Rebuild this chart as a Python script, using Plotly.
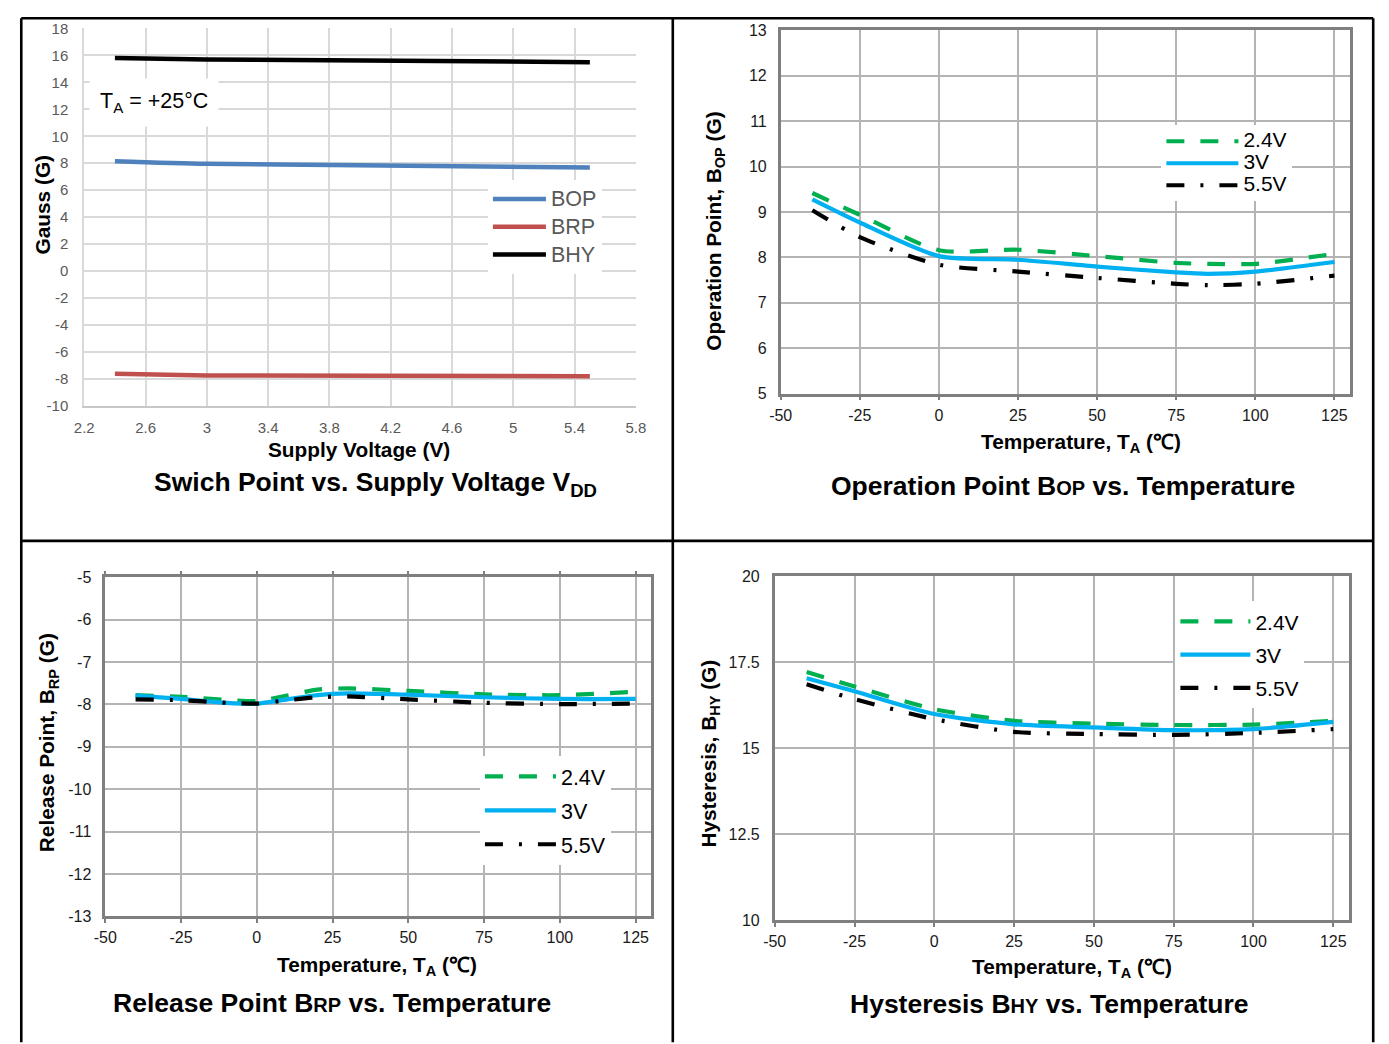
import plotly.graph_objects as go

# Figure size (the page body adds an 8px margin; the photographed page is
# slightly reduced, so layout positions are mapped through that measured scale).
W, H = 1392, 1046
BODY = 8
SC = 0.985
BX, BY = 9.8, 8.6
FONT = "Liberation Sans, Arial, sans-serif"

# ---------------- data ----------------
# Panel 1: switch point vs supply voltage (TA = 25C)
vdd = [2.4, 3.0, 5.5]
bop_vdd = [8.15, 7.95, 7.68]
brp_vdd = [-7.64, -7.76, -7.81]
bhy_vdd = [15.8, 15.7, 15.5]

# Panel 2: operation point vs temperature
temps_op = [-40, -25, 0, 25, 50, 75, 85, 100, 125]
bop_24 = [9.42, 8.94, 8.16, 8.17, 8.03, 7.88, 7.86, 7.86, 8.08]
bop_30 = [9.28, 8.77, 8.03, 7.95, 7.80, 7.67, 7.64, 7.69, 7.90]
bop_55 = [9.04, 8.45, 7.84, 7.69, 7.55, 7.42, 7.39, 7.42, 7.60]

# Panel 3: release point vs temperature
temps_rp = [-40, -25, -10, 0, 10, 20, 30, 50, 75, 100, 125]
brp_24 = [-7.78, -7.82, -7.89, -7.92, -7.79, -7.65, -7.62, -7.68, -7.76, -7.78, -7.70]
brp_30 = [-7.79, -7.87, -7.96, -7.98, -7.88, -7.78, -7.74, -7.77, -7.83, -7.87, -7.87]
brp_55 = [-7.88, -7.90, -7.96, -7.98, -7.90, -7.83, -7.81, -7.88, -7.96, -7.99, -7.98]

# Panel 4: hysteresis vs temperature
temps_hy = [-40, -25, 0, 25, 50, 75, 100, 125]
bhy_24 = [17.22, 16.80, 16.14, 15.80, 15.72, 15.68, 15.69, 15.80]
bhy_30 = [17.04, 16.66, 16.00, 15.70, 15.61, 15.53, 15.56, 15.77]
bhy_55 = [16.86, 16.43, 15.85, 15.48, 15.42, 15.39, 15.45, 15.56]

vdd_names = ["BOP", "BRP", "BHY"]
volt_names = ["2.4V", "3V", "5.5V"]

# tick labels (plain hyphen minus as in the original)
p1_xticks = ["2.2", "2.6", "3", "3.4", "3.8", "4.2", "4.6", "5", "5.4", "5.8"]
p1_yticks = ["-10", "-8", "-6", "-4", "-2", "0", "2", "4", "6", "8", "10", "12", "14", "16", "18"]
temp_ticks = ["-50", "-25", "0", "25", "50", "75", "100", "125"]
p2_yticks = ["5", "6", "7", "8", "9", "10", "11", "12", "13"]
p3_yticks = ["-13", "-12", "-11", "-10", "-9", "-8", "-7", "-6", "-5"]
p4_yticks = ["10", "12.5", "15", "17.5", "20"]

# ---------------- helpers ----------------
def px(x):
    return ((x - BX) / SC - BODY) / W

def py(y):
    return 1 - ((y - BY) / SC - BODY) / H

def vals(labels):
    return [float(s) for s in labels]

C_GREEN = "#00b050"
C_BLUE = "#00b0f0"
C_BLACK = "#000000"
DASH_24 = "18px,16px"
DASH_55 = "18px,16px,3px,16px"

fig = go.Figure()

# Panel 1 traces
for name, ys, col in zip(vdd_names, [bop_vdd, brp_vdd, bhy_vdd], ["#4f81bd", "#c0504d", "#000000"]):
    fig.add_trace(go.Scatter(x=vdd, y=ys, name=f'<span style="font-size:21.5px">{name}</span>',
                             mode="lines",
                             line=dict(color=col, width=4.5, shape="spline", smoothing=0.6),
                             xaxis="x", yaxis="y", legend="legend", legendgroup="p1" + name))

def temp_traces(temps, series, xa, ya, leg, span=None):
    styles = [(C_GREEN, DASH_24), (C_BLUE, "solid"), (C_BLACK, DASH_55)]
    for nm, ys, (col, dash) in zip(volt_names, series, styles):
        label = nm if span is None else f'<span style="font-size:{span}px">{nm}</span>'
        fig.add_trace(go.Scatter(x=temps, y=ys, name=label, mode="lines",
                                 line=dict(color=col, width=4.2, dash=dash, shape="spline", smoothing=0.7),
                                 xaxis=xa, yaxis=ya, legend=leg, legendgroup=leg + nm))

temp_traces(temps_op, [bop_24, bop_30, bop_55], "x2", "y2", "legend2", span=21)
temp_traces(temps_rp, [brp_24, brp_30, brp_55], "x3", "y3", "legend3")
temp_traces(temps_hy, [bhy_24, bhy_30, bhy_55], "x4", "y4", "legend4")

# ---------------- axes ----------------
tickfont1 = dict(family=FONT, size=15, color="#595959")
tickfontT = dict(family=FONT, size=16, color="#1a1a1a")

p1x = dict(domain=[px(82), px(634)], range=[2.2, 5.8],
           tickmode="array", tickvals=vals(p1_xticks), ticktext=p1_xticks,
           showgrid=True, gridcolor="#d9d9d9", gridwidth=2, zeroline=False,
           showline=True, linecolor="#c8c8c8", linewidth=2, mirror=False,
           tickfont=tickfont1, ticks="", ticklabelstandoff=7, anchor="y")
p1y = dict(domain=[py(406), py(28)], range=[-10, 18],
           tickmode="array", tickvals=vals(p1_yticks), ticktext=p1_yticks,
           showgrid=True, gridcolor="#d9d9d9", gridwidth=2, zeroline=False,
           showline=True, linecolor="#d9d9d9", linewidth=2, mirror=False,
           tickfont=tickfont1, ticks="", ticklabelstandoff=11, anchor="x")

def temp_axes(xd, yd, yr, ylabels, xa_anchor, ya_anchor, ystand, mirror_ticks=False):
    xax = dict(domain=xd, range=[-50, 130],
               tickmode="array", tickvals=vals(temp_ticks), ticktext=temp_ticks,
               showgrid=True, gridcolor="#b4b4b4", gridwidth=1.6, zeroline=False,
               showline=True, linecolor="#7f7f7f", linewidth=2.5,
               mirror="ticks" if mirror_ticks else True,
               ticks="outside", ticklen=4, tickcolor="#7f7f7f", tickwidth=1.5,
               tickfont=tickfontT, ticklabelstandoff=1, anchor=ya_anchor)
    yax = dict(domain=yd, range=yr,
               tickmode="array", tickvals=vals(ylabels), ticktext=ylabels,
               showgrid=True, gridcolor="#b4b4b4", gridwidth=1.6, zeroline=False,
               showline=True, linecolor="#7f7f7f", linewidth=2.5, mirror=True,
               ticks="", tickfont=tickfontT, ticklabelstandoff=ystand, anchor=xa_anchor)
    return xax, yax

p2x, p2y = temp_axes([px(779), px(1349)], [py(394), py(30)], [5, 13], p2_yticks, "x2", "y2", 8)
p3x, p3y = temp_axes([px(103), px(649)], [py(918), py(578)], [-13, -5], p3_yticks, "x3", "y3", 8,
                     mirror_ticks=True)
p4x, p4y = temp_axes([px(773), px(1348)], [py(922), py(577)], [10, 20], p4_yticks, "x4", "y4", 9)

# ---------------- legends ----------------
# itemwidth = length of the sample line; text starts itemwidth + 10 px after legend left
leg1 = dict(x=px(549 - 63), y=py(180), xanchor="left", yanchor="top", bgcolor="white",
            itemwidth=53,
            font=dict(family=FONT, size=19, color="#595959"), tracegroupgap=0,
            traceorder="normal")
leg2 = dict(x=px(1242 - 82), y=py(125), xanchor="left", yanchor="top", bgcolor="white",
            itemwidth=72,
            font=dict(family=FONT, size=14.6, color="#000000"), tracegroupgap=0,
            traceorder="normal")
leg3 = dict(x=px(559 - 81), y=py(757), xanchor="left", yanchor="top", bgcolor="white",
            itemwidth=71,
            font=dict(family=FONT, size=21.5, color="#000000"), tracegroupgap=3,
            traceorder="grouped")
leg4 = dict(x=px(1254 - 80), y=py(602), xanchor="left", yanchor="top", bgcolor="white",
            itemwidth=70,
            font=dict(family=FONT, size=21, color="#000000"), tracegroupgap=3,
            traceorder="grouped")

# ---------------- text ----------------
ann = []

def text(x, y, s, size, bold=False, angle=0, color="#000000", xanchor="center", bg=None, pad=0):
    d = dict(x=px(x), y=py(y), xref="paper", yref="paper", text=(f"<b>{s}</b>" if bold else s),
             showarrow=False, textangle=angle, xanchor=xanchor, yanchor="middle",
             font=dict(family=FONT, size=size, color=color))
    if bg:
        d["bgcolor"] = bg
        d["borderpad"] = pad
    ann.append(d)

AX = 20.8
TT = 26.5
# panel 1
text(87, 102, "T<sub>A</sub> = +25°C", 21.5, xanchor="left", bg="white", pad=10)
text(40, 205, "Gauss (G)", AX, bold=True, angle=-90)
text(357, 450, "Supply Voltage (V)", AX, bold=True)
text(373, 485, "Swich Point vs. Supply Voltage V<sub>DD</sub>", TT, bold=True)
# panel 2
text(713, 231, "Operation Point, B<sub>OP</sub> (G)", AX, bold=True, angle=-90)
text(1080, 443, "Temperature, T<sub>A</sub> (℃)", AX, bold=True)
text(1062, 487, 'Operation Point B<span style="font-size:20px">OP</span> vs. Temperature', TT, bold=True)
# panel 3
text(46, 744, "Release Point, B<sub>RP</sub> (G)", AX, bold=True, angle=-90)
text(375, 968, "Temperature, T<sub>A</sub> (℃)", AX, bold=True)
text(330, 1005, 'Release Point B<span style="font-size:20px">RP</span> vs. Temperature', TT, bold=True)
# panel 4
text(708, 755, "Hysteresis, B<sub>HY</sub> (G)", AX, bold=True, angle=-90)
text(1071, 970, "Temperature, T<sub>A</sub> (℃)", AX, bold=True)
text(1048, 1006, 'Hysteresis B<span style="font-size:20px">HY</span> vs. Temperature', TT, bold=True)

# ---------------- table borders ----------------
shapes = []
LW = 2.6
def hline_fig(yf, x0, x1):
    shapes.append(dict(type="line", xref="paper", yref="paper", x0=x0, x1=x1,
                       y0=yf, y1=yf, line=dict(color="black", width=LW), layer="above"))
def vline_fig(xf, y0, y1):
    shapes.append(dict(type="line", xref="paper", yref="paper", x0=xf, x1=xf,
                       y0=y0, y1=y1, line=dict(color="black", width=LW), layer="above"))

left = 1.3 / W
top = 1 - 1.3 / H
right = px(1372)
bottom = py(1044)
hline_fig(top, left, right)
hline_fig(py(541.5), left, right)
vline_fig(left, bottom, top)
vline_fig(px(671), bottom, top)
vline_fig(right, bottom, top)

fig.update_layout(
    width=W, height=H, autosize=False,
    margin=dict(l=0, r=0, t=0, b=0, pad=0),
    paper_bgcolor="white", plot_bgcolor="white",
    font=dict(family=FONT),
    xaxis=p1x, yaxis=p1y,
    xaxis2=p2x, yaxis2=p2y,
    xaxis3=p3x, yaxis3=p3y,
    xaxis4=p4x, yaxis4=p4y,
    legend=leg1, legend2=leg2, legend3=leg3, legend4=leg4,
    annotations=ann, shapes=shapes,
    showlegend=True,
)

fig.write_html("out.html")
